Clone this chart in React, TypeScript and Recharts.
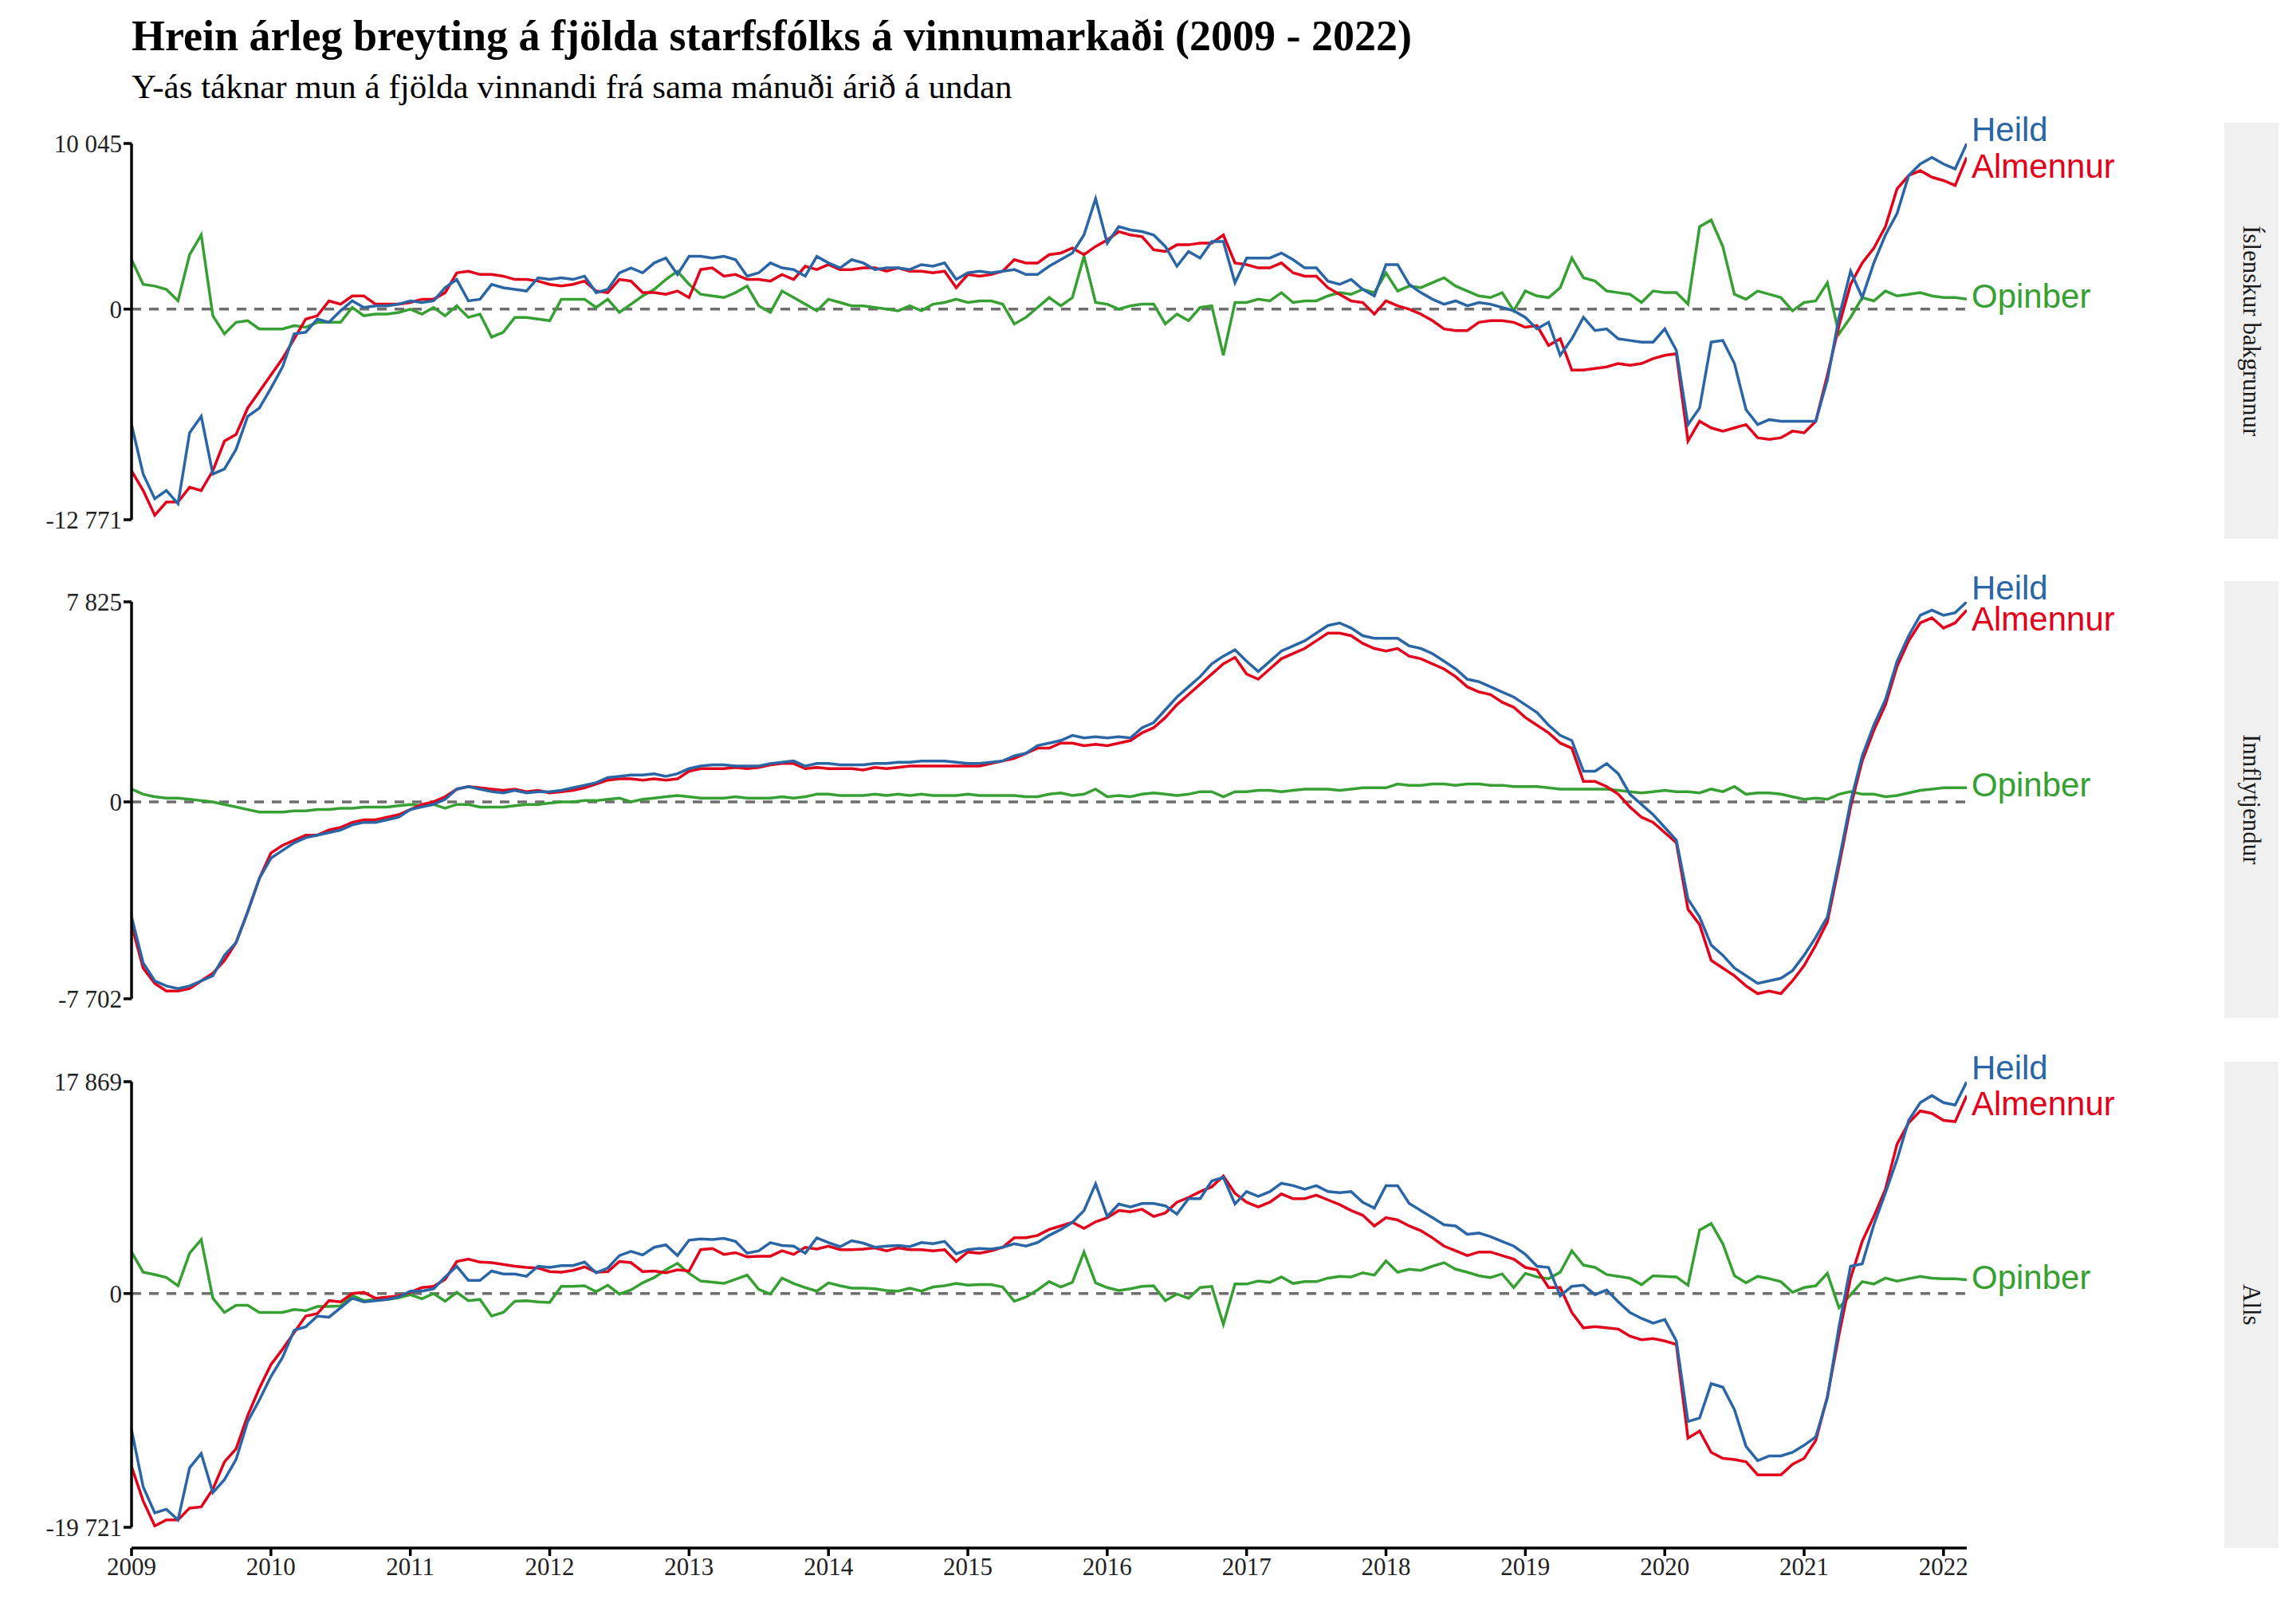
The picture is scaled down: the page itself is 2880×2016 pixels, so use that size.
import React from 'react';
import { LineChart, Line, XAxis, YAxis, ReferenceLine } from 'recharts';

// monthly values, Jan 2009 .. Mar 2022
const TOP_HEILD = [
  -7000, -10000, -11500, -11000, -11800, -7500, -6500, -10000, -9700, -8500, -6500, -6000,
  -4800, -3500, -1500, -1400, -600, -800, -100, 500, 100, 200, 200, 300,
  500, 400, 500, 1300, 1800, 500, 600, 1500, 1300, 1200, 1100, 1900,
  1800, 1900, 1800, 2000, 1000, 1200, 2200, 2500, 2200, 2800, 3100, 2100,
  3200, 3200, 3100, 3200, 3000, 2000, 2200, 2800, 2500, 2400, 2000, 3200,
  2800, 2500, 3000, 2800, 2400, 2500, 2500, 2400, 2700, 2600, 2800, 1800,
  2200, 2300, 2200, 2300, 2400, 2100, 2100, 2600, 3000, 3400, 4500, 6700,
  4000, 5000, 4800, 4700, 4500, 3800, 2600, 3500, 3100, 4100, 4100, 1600,
  3100, 3100, 3100, 3400, 3000, 2500, 2500, 1700, 1500, 1800, 1200, 800,
  2700, 2700, 1500, 1000, 600, 300, 500, 200, 400, 300, 100, -100,
  -500, -1200, -800, -2800, -1800, -500, -1300, -1200, -1800, -1900, -2000, -2000,
  -1200, -2500, -7000, -6000, -2000, -1900, -3300, -6100, -7000, -6700, -6800, -6800,
  -6800, -6800, -4300, -500, 2300, 700, 2800, 4500, 5800, 8100, 8800, 9200,
  8800, 8500, 10045,
];
const TOP_ALM = [
  -9800, -11000, -12500, -11700, -11700, -10800, -11000, -9800, -8000, -7600, -6000, -5000,
  -4000, -3000, -1800, -600, -400, 500, 300, 800, 800, 300, 300, 300,
  400, 600, 600, 1000, 2200, 2300, 2100, 2100, 2000, 1800, 1800, 1700,
  1500, 1400, 1500, 1700, 1100, 1000, 1800, 1700, 1000, 1000, 900, 1100,
  700, 2400, 2500, 2000, 2100, 1800, 1800, 1700, 2100, 1800, 2600, 2400,
  2700, 2400, 2400, 2500, 2500, 2300, 2500, 2300, 2300, 2200, 2300, 1300,
  2100, 2000, 2100, 2300, 3000, 2800, 2800, 3300, 3400, 3700, 3300, 3800,
  4200, 4700, 4500, 4400, 3600, 3500, 3900, 3900, 4000, 4000, 4500, 2800,
  2700, 2500, 2500, 2800, 2200, 2000, 2000, 1300, 900, 500, 400, -300,
  500, 200, 0, -300, -700, -1200, -1300, -1300, -800, -700, -700, -800,
  -1100, -1000, -2200, -1800, -3700, -3700, -3600, -3500, -3300, -3400, -3300, -3000,
  -2800, -2700, -8000, -6800, -7200, -7400, -7200, -7000, -7800, -7900, -7800, -7400,
  -7500, -6800, -4000, -1000, 1500, 2800, 3700, 5000, 7300, 8100, 8400, 8000,
  7800, 7500, 9200,
];
const TOP_OPI = [
  3000, 1500, 1400, 1200, 500, 3300, 4500, -400, -1500, -800, -700, -1200,
  -1200, -1200, -1000, -1100, -800, -800, -800, 100, -400, -300, -300, -200,
  0, -300, 100, -400, 200, -500, -300, -1700, -1400, -500, -500, -600,
  -700, 600, 600, 600, 100, 600, -200, 300, 800, 1200, 1800, 2300,
  1500, 900, 800, 700, 1000, 1400, 200, -200, 1100, 700, 300, -100,
  600, 400, 200, 200, 100, 0, -100, 200, -100, 300, 400, 600,
  400, 500, 500, 300, -900, -500, 100, 700, 200, 700, 3200, 400,
  300, 0, 200, 300, 300, -900, -300, -700, 100, 200, -2800, 400,
  400, 600, 500, 1000, 400, 500, 500, 800, 1000, 900, 1200, 1000,
  2200, 1100, 1400, 1300, 1600, 1900, 1400, 1100, 800, 700, 1000, -100,
  1100, 800, 700, 1300, 3100, 1900, 1700, 1100, 1000, 900, 400, 1100,
  1000, 1000, 300, 5000, 5400, 3800, 900, 600, 1100, 900, 700, -100,
  400, 500, 1600, -1500, -500, 700, 500, 1100, 800, 900, 1000, 800,
  700, 700, 600,
];

const MID_HEILD = [
  -4500, -6300, -7000, -7200, -7300, -7200, -7000, -6800, -6000, -5500, -4300, -3000,
  -2200, -1900, -1600, -1400, -1300, -1200, -1100, -900, -800, -800, -700, -600,
  -300, -200, -100, 100, 500, 600, 500, 400, 350, 450, 350, 400,
  400, 450, 550, 650, 750, 950, 1000, 1050, 1050, 1100, 1000, 1100,
  1300, 1400, 1450, 1450, 1400, 1400, 1400, 1500, 1550, 1600, 1400, 1500,
  1500, 1450, 1450, 1450, 1500, 1500, 1550, 1550, 1600, 1600, 1600, 1550,
  1500, 1500, 1550, 1600, 1800, 1900, 2200, 2300, 2400, 2600, 2500, 2550,
  2500, 2550, 2500, 2900, 3100, 3600, 4100, 4500, 4900, 5400, 5700, 5950,
  5500, 5100, 5500, 5900, 6100, 6300, 6600, 6900, 7000, 6800, 6500, 6400,
  6400, 6400, 6100, 6000, 5800, 5500, 5200, 4800, 4700, 4500, 4300, 4100,
  3800, 3500, 3000, 2600, 2400, 1200, 1200, 1500, 1100, 300, -100, -500,
  -1000, -1500, -3800, -4500, -5600, -6000, -6500, -6800, -7100, -7000, -6900, -6600,
  -6000, -5300, -4500, -2300, 0, 1800, 3000, 4000, 5500, 6500, 7300, 7500,
  7300, 7400, 7825,
];
const MID_ALM = [
  -4800, -6500, -7100, -7400, -7400, -7300, -7000, -6700, -6200, -5500, -4300, -3000,
  -2000, -1700, -1500, -1300, -1300, -1100, -1000, -800, -700, -700, -600, -500,
  -300, -100, 0, 200, 500, 600, 550, 500, 450, 500, 400, 450,
  350, 400, 450, 550, 700, 850, 900, 900, 850, 900, 850, 900,
  1200, 1300, 1300, 1300, 1350, 1300, 1350, 1450, 1500, 1500, 1300, 1350,
  1300, 1300, 1300, 1250, 1350, 1300, 1350, 1400, 1400, 1400, 1400, 1400,
  1400, 1400, 1500, 1600, 1700, 1900, 2100, 2100, 2300, 2300, 2200, 2250,
  2200, 2300, 2400, 2700, 2900, 3300, 3800, 4200, 4600, 5000, 5400, 5650,
  5000, 4800, 5200, 5600, 5800, 6000, 6300, 6600, 6600, 6500, 6200, 6000,
  5900, 6000, 5700, 5600, 5400, 5200, 4900, 4500, 4300, 4200, 3900, 3700,
  3300, 3000, 2700, 2300, 2100, 800, 800, 600, 300, -200, -600, -800,
  -1200, -1600, -4200, -4800, -6200, -6500, -6800, -7200, -7500, -7400, -7500, -7000,
  -6400, -5600, -4700, -2500, -200, 1600, 2800, 3800, 5300, 6300, 7000, 7200,
  6800, 7000, 7500,
];
const MID_OPI = [
  500, 300, 200, 150, 150, 100, 50, 0, -100, -200, -300, -400,
  -400, -400, -350, -350, -300, -300, -250, -250, -200, -200, -200, -150,
  -100, -150, -100, -250, -100, -100, -200, -200, -200, -150, -100, -100,
  -50, 0, 0, 50, 50, 100, 150, 0, 100, 150, 200, 250,
  200, 150, 150, 150, 200, 150, 150, 150, 200, 150, 200, 300,
  300, 250, 250, 250, 300, 250, 300, 250, 300, 250, 250, 250,
  300, 250, 250, 250, 250, 200, 200, 300, 350, 250, 300, 500,
  200, 250, 200, 300, 350, 300, 250, 300, 400, 400, 200, 400,
  400, 450, 450, 400, 450, 500, 500, 500, 450, 500, 550, 550,
  550, 700, 650, 650, 700, 700, 650, 700, 700, 650, 650, 600,
  600, 600, 550, 500, 500, 500, 500, 500, 450, 400, 350, 400,
  450, 400, 400, 350, 500, 400, 600, 300, 350, 350, 300, 200,
  100, 150, 100, 300, 400, 300, 300, 200, 250, 350, 450, 500,
  550, 550, 550,
];

const BOT_HEILD = [
  -11500, -16300, -18500, -18200, -19100, -14700, -13500, -16800, -15700, -14000, -10800, -9000,
  -7000, -5400, -3100, -2800, -1900, -2000, -1200, -400, -700, -600, -500, -300,
  200, 200, 400, 1400, 2300, 1100, 1100, 1900, 1650, 1650, 1450, 2300,
  2200, 2350, 2350, 2650, 1750, 2150, 3200, 3550, 3250, 3900, 4100, 3200,
  4500, 4600, 4550, 4650, 4400, 3400, 3600, 4300, 4050, 4000, 3400, 4700,
  4300, 3950, 4450, 4250, 3900, 4000, 4050, 3950, 4300, 4200, 4400, 3350,
  3700, 3800, 3750, 3900, 4200, 4000, 4300, 4900, 5400, 6000, 7000, 9250,
  6500, 7550, 7300, 7600, 7600, 7400, 6700, 8000, 8000, 9500, 9800, 7550,
  8600, 8200, 8600, 9300, 9100, 8800, 9100, 8600, 8500, 8600, 7700, 7200,
  9100, 9100, 7600, 7000, 6400, 5800, 5700, 5000, 5100, 4800, 4400, 4000,
  3300, 2300, 2200, -200, 600, 700, -100, 300, -700, -1600, -2100, -2500,
  -2200, -4000, -10800, -10500, -7600, -7900, -9800, -12900, -14100, -13700, -13700, -13400,
  -12800, -12100, -8800, -2800, 2300, 2500, 5800, 8500, 11300, 14600, 16100, 16700,
  16100, 15900, 17869,
];
const BOT_ALM = [
  -14600, -17500, -19600, -19100, -19100, -18100, -18000, -16500, -14200, -13100, -10300, -8000,
  -6000, -4700, -3300, -1900, -1700, -600, -700, 0, 100, -400, -300, -200,
  100, 500, 600, 1200, 2700, 2900, 2650, 2600, 2450, 2300, 2200, 2150,
  1850, 1800, 1950, 2250, 1800, 1850, 2700, 2600, 1850, 1900, 1750, 2000,
  1900, 3700, 3800, 3300, 3450, 3100, 3150, 3150, 3600, 3300, 3900, 3750,
  4000, 3700, 3700, 3750, 3850, 3600, 3850, 3700, 3700, 3600, 3700, 2700,
  3500, 3400, 3600, 3900, 4700, 4700, 4900, 5400, 5700, 6000, 5500, 6050,
  6400, 7000, 6900, 7100, 6500, 6800, 7700, 8100, 8600, 9000, 9900, 8450,
  7700, 7300, 7700, 8400, 8000, 8000, 8300, 7900, 7500, 7000, 6600, 5700,
  6400, 6200, 5700, 5300, 4700, 4000, 3600, 3200, 3500, 3500, 3200, 2900,
  2200, 2000, 500, 500, -1600, -2900, -2800, -2900, -3000, -3600, -3900, -3800,
  -4000, -4300, -12200, -11600, -13400, -13900, -14000, -14200, -15300, -15300, -15300, -14400,
  -13900, -12400, -8700, -3500, 1300, 4400, 6500, 8800, 12600, 14400, 15400, 15200,
  14600, 14500, 16700,
];
const BOT_OPI = [
  3500, 1800, 1600, 1350, 650, 3400, 4550, -400, -1600, -1000, -1000, -1600,
  -1600, -1600, -1350, -1450, -1100, -1100, -1050, -150, -600, -500, -500, -350,
  -100, -450, 0, -650, 100, -600, -500, -1900, -1600, -650, -600, -700,
  -750, 600, 600, 650, 150, 700, -50, 300, 900, 1350, 2000, 2550,
  1700, 1050, 950, 850, 1200, 1550, 350, -50, 1300, 850, 500, 200,
  900, 650, 450, 450, 400, 250, 200, 450, 200, 550, 650, 850,
  700, 750, 750, 550, -650, -300, 300, 1000, 550, 950, 3500, 900,
  500, 250, 400, 600, 650, -600, -50, -400, 500, 600, -2600, 800,
  800, 1050, 950, 1400, 850, 1000, 1000, 1300, 1450, 1400, 1750, 1550,
  2750, 1800, 2050, 1950, 2300, 2600, 2050, 1800, 1500, 1350, 1650, 500,
  1700, 1400, 1250, 1800, 3600, 2400, 2200, 1600, 1450, 1300, 750, 1500,
  1450, 1400, 700, 5350, 5900, 4200, 1500, 900, 1450, 1250, 1000, 100,
  500, 650, 1700, -1200, -100, 1000, 800, 1300, 1050, 1250, 1450, 1300,
  1250, 1250, 1150,
];

const YEARS = [2009, 2010, 2011, 2012, 2013, 2014, 2015, 2016, 2017, 2018, 2019, 2020, 2021, 2022];

const BLUE = '#2a65a6';
const RED = '#e3001b';
const GREEN = '#36a033';
const X_DOMAIN: [number, number] = [2009, 2022 + 2 / 12];
const PLOT_LEFT = 165;
const RIGHT_MARGIN = 2880 - 2467;
const PAD = 50;
const TICK_FONT = { fill: '#222', fontSize: 31, fontFamily: 'Liberation Serif, serif' };

const rows = (h: number[], a: number[], o: number[]) =>
  h.map((v, i) => ({ t: 2009 + i / 12, h: v, a: a[i], o: o[i] }));

const fmt = (v: number) => {
  const s = Math.abs(v).toString().replace(/\B(?=(\d{3})+(?!\d))/g, ' ');
  return v < 0 ? '-' + s : s;
};

const endLabel = (n: number, text: string, color: string, dy: number) => (props: any) => {
  if (props.index !== n - 1) return null;
  return (
    <text x={props.x + 6} y={props.y + dy} fill={color} fontSize={42}
      fontFamily="Liberation Sans, Arial, sans-serif" dominantBaseline="middle">{text}</text>
  );
};

function Panel({ h, a, o, min, max, top, bottom }: any) {
  const data = rows(h, a, o);
  const n = data.length;
  return (
    <div style={{ position: 'absolute', left: 0, top: top - PAD }}>
      <LineChart width={2880} height={bottom - top + 2 * PAD} data={data}
        margin={{ top: PAD, bottom: PAD, left: 0, right: RIGHT_MARGIN }}>
        <XAxis dataKey="t" type="number" domain={X_DOMAIN} hide allowDataOverflow />
        <YAxis width={PLOT_LEFT} domain={[min, max]} ticks={[min, 0, max]} tickFormatter={fmt}
          allowDataOverflow interval={0}
          axisLine={{ stroke: '#000', strokeWidth: 3.5 }} tickLine={{ stroke: '#000', strokeWidth: 3.5 }}
          tickSize={10} tick={TICK_FONT} />
        <ReferenceLine y={0} stroke="#6e6e6e" strokeWidth={3.5} strokeDasharray="12 10" ifOverflow="extendDomain" />
        <Line dataKey="o" stroke={GREEN} strokeWidth={3.5} dot={false} isAnimationActive={false}
          label={endLabel(n, 'Opinber', GREEN, 0)} />
        <Line dataKey="a" stroke={RED} strokeWidth={3.5} dot={false} isAnimationActive={false}
          label={endLabel(n, 'Almennur', RED, 14)} />
        <Line dataKey="h" stroke={BLUE} strokeWidth={3.5} dot={false} isAnimationActive={false}
          label={endLabel(n, 'Heild', BLUE, -14)} />
      </LineChart>
    </div>
  );
}

function Strip({ top, bottom, text }: { top: number; bottom: number; text: string }) {
  return (
    <div style={{
      position: 'absolute', left: 2790, top, width: 68, height: bottom - top, background: '#f0f0f0',
      display: 'flex', alignItems: 'center', justifyContent: 'center',
    }}>
      <span style={{ writingMode: 'vertical-rl', fontSize: 31, fontFamily: 'Liberation Serif, serif', color: '#1a1a1a' }}>{text}</span>
    </div>
  );
}

export default function App() {
  const axisData = rows(BOT_HEILD, BOT_ALM, BOT_OPI);
  return (
    <div style={{ position: 'absolute', left: 0, top: 0, width: 2880, height: 2016, background: '#fff', overflow: 'hidden' }}>
      <div style={{ position: 'absolute', left: 165, top: 14, fontSize: 54, fontWeight: 'bold', fontFamily: 'Liberation Serif, serif' }}>
        Hrein árleg breyting á fjölda starfsfólks á vinnumarkaði (2009 - 2022)
      </div>
      <div style={{ position: 'absolute', left: 165, top: 84, fontSize: 43, fontFamily: 'Liberation Serif, serif' }}>
        Y-ás táknar mun á fjölda vinnandi frá sama mánuði árið á undan
      </div>
      <Panel h={TOP_HEILD} a={TOP_ALM} o={TOP_OPI} min={-12771} max={10045} top={180} bottom={652} />
      <Panel h={MID_HEILD} a={MID_ALM} o={MID_OPI} min={-7702} max={7825} top={755} bottom={1253} />
      <Panel h={BOT_HEILD} a={BOT_ALM} o={BOT_OPI} min={-19721} max={17869} top={1357} bottom={1916} />
      <div style={{ position: 'absolute', left: 0, top: 1902 }}>
        <LineChart width={2880} height={100} data={axisData} margin={{ top: 0, bottom: 0, left: PLOT_LEFT, right: RIGHT_MARGIN }}>
          <XAxis dataKey="t" type="number" domain={X_DOMAIN} ticks={YEARS} interval={0} height={60}
            allowDataOverflow tickFormatter={(v: number) => String(Math.round(v))}
            axisLine={{ stroke: '#000', strokeWidth: 3.5 }} tickLine={{ stroke: '#000', strokeWidth: 3.5 }}
            tickSize={10} tick={TICK_FONT} />
          <Line dataKey="h" stroke="none" dot={false} isAnimationActive={false} />
        </LineChart>
      </div>
      <Strip top={154} bottom={676} text="Íslenskur bakgrunnur" />
      <Strip top={729} bottom={1277} text="Innflytjendur" />
      <Strip top={1332} bottom={1942} text="Alls" />
    </div>
  );
}
